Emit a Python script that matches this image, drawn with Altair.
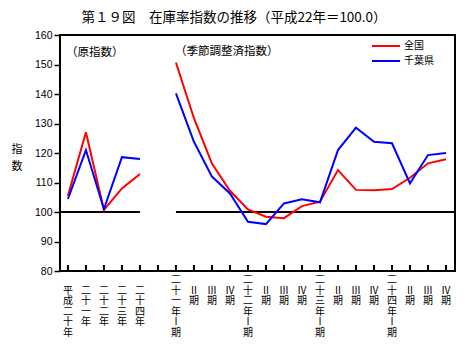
import altair as alt
import pandas as pd

# ---- data ----
x_labels = ["平成二十年", "二十一年", "二十二年", "二十三年", "二十四年", "",
            "二十一年Ⅰ期", "Ⅱ期", "Ⅲ期", "Ⅳ期",
            "二十二年Ⅰ期", "Ⅱ期", "Ⅲ期", "Ⅳ期",
            "二十三年Ⅰ期", "Ⅱ期", "Ⅲ期", "Ⅳ期",
            "二十四年Ⅰ期", "Ⅱ期", "Ⅲ期", "Ⅳ期"]
series_names = ["全国", "千葉県"]
series_colors = ["#FF0000", "#0000FF"]

# original index (annual), positions 0-4
annual_zenkoku = [105.5, 127.0, 100.7, 108.0, 112.9]
annual_chiba = [104.4, 121.0, 101.0, 118.6, 118.0]
# seasonally adjusted (quarterly), positions 6-21
quarter_zenkoku = [150.7, 131.8, 116.4, 107.2, 100.9, 98.4, 97.9, 102.0,
                   103.5, 114.2, 107.5, 107.4, 107.8, 111.6, 116.5, 117.9]
quarter_chiba = [140.2, 123.8, 112.0, 106.3, 96.7, 95.9, 102.9, 104.3,
                 103.3, 121.0, 128.6, 123.8, 123.3, 109.7, 119.3, 120.0]

y_ticks = [80, 90, 100, 110, 120, 130, 140, 150, 160]
base_value = 100

W, H = 395, 236
x_domain = [-0.44, len(x_labels) - 0.5]

rows = []
for name, vals in zip(series_names, [annual_zenkoku, annual_chiba]):
    for i, v in enumerate(vals):
        rows.append({"pos": i, "value": v, "series": name, "panel": "annual"})
for name, vals in zip(series_names, [quarter_zenkoku, quarter_chiba]):
    for i, v in enumerate(vals):
        rows.append({"pos": i + 6, "value": v, "series": name, "panel": "quarter"})
df = pd.DataFrame(rows)

xs = alt.Scale(domain=x_domain, nice=False, zero=False)
ys = alt.Scale(domain=[y_ticks[0], y_ticks[-1]], nice=False, zero=False)
color_scale = alt.Scale(domain=series_names, range=series_colors)
y_axis = alt.Axis(
    values=y_ticks, format="d", tickSize=6, tickColor="black", tickWidth=1.5,
    labelPadding=2, labelFont="Liberation Sans", labelFontSize=10.5,
    labelColor="black", domain=False, grid=False, title=None)

lines = alt.Chart(df).mark_line(strokeWidth=2).encode(
    x=alt.X("pos:Q", scale=xs, axis=None),
    y=alt.Y("value:Q", scale=ys, axis=y_axis),
    color=alt.Color("series:N", scale=color_scale, legend=None),
    detail="panel:N",
)

ref_df = pd.DataFrame([
    {"x": x_domain[0], "x2": 4, "y": base_value},
    {"x": 6, "x2": x_domain[1], "y": base_value},
])
ref = alt.Chart(ref_df).mark_rule(color="black", strokeWidth=2).encode(
    x=alt.X("x:Q", scale=xs, axis=None), x2="x2:Q",
    y=alt.Y("y:Q", scale=ys, axis=y_axis))

# vertical labels: one character per line, bottom-aligned by padding on top
max_len = max(len(s) for s in x_labels)
tick_df = pd.DataFrame({
    "pos": list(range(len(x_labels))),
    "label": ["\n".join([" "] * (max_len - len(s)) + list(s)) for s in x_labels],
})
ticks = alt.Chart(tick_df).mark_rule(color="black", strokeWidth=2).encode(
    x=alt.X("pos:Q", scale=xs, axis=None), y=alt.value(H), y2=alt.value(H - 6))
labels = alt.Chart(tick_df).mark_text(
    baseline="top", align="center", fontSize=10, lineHeight=10.5, lineBreak="\n",
    font="Noto Sans CJK JP", color="black").encode(
    x=alt.X("pos:Q", scale=xs, axis=None), y=alt.value(H + 4), text="label:N")

def txt(s, x, y, size, align="left", baseline="middle", lh=None):
    kw = dict(align=align, baseline=baseline, fontSize=size,
              font="Noto Sans CJK JP", color="black", lineBreak="\n")
    if lh:
        kw["lineHeight"] = lh
    return alt.Chart(pd.DataFrame({"t": [s]})).mark_text(**kw).encode(
        x=alt.value(x), y=alt.value(y), text="t:N")

title = txt("第１９図　在庫率指数の推移（平成22年＝100.0）", 174, -17, 13.5, align="center")
ytitle = txt("指\n数", -43, 115, 11, align="center", lh=17)
ann1 = txt("（原指数）", 6, 18, 11.5)
ann2 = txt("（季節調整済指数）", 115, 17, 11.5)

leg_layers = []
for i, (n, c) in enumerate(zip(series_names, series_colors)):
    yy = 11 + 15 * i
    leg_layers.append(alt.Chart(pd.DataFrame({"n": [n]})).mark_rule(color=c, strokeWidth=2).encode(
        x=alt.value(312), x2=alt.value(340), y=alt.value(yy)))
    leg_layers.append(txt(n, 344, yy, 10))

chart = alt.layer(ref, ticks, lines, labels, title, ytitle, ann1, ann2, *leg_layers).properties(
    width=W, height=H,
    autosize=alt.AutoSizeParams(type="none"),
    padding={"left": 60, "top": 35, "right": 15, "bottom": 76},
    background="white",
).configure_view(stroke="black", strokeWidth=2)

chart.save("out.html", embed_options={"renderer": "svg", "actions": False})
